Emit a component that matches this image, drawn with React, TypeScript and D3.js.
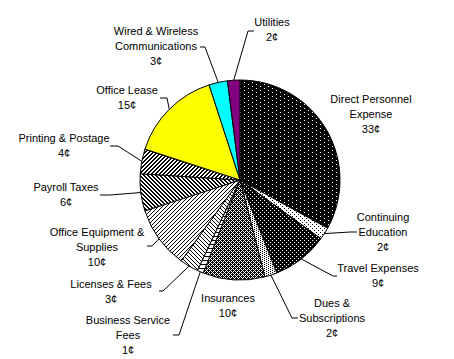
import React from "react";
import * as d3 from "d3";

const categories = [
  "Direct Personnel Expense",
  "Continuing Education",
  "Travel Expenses",
  "Dues & Subscriptions",
  "Insurances",
  "Business Service Fees",
  "Licenses & Fees",
  "Office Equipment & Supplies",
  "Payroll Taxes",
  "Printing & Postage",
  "Office Lease",
  "Wired & Wireless Communications",
  "Utilities",
];
const values = [33, 2, 9, 2, 10, 1, 3, 10, 6, 4, 15, 3, 2];
const labelLines = [
  ["Direct Personnel", "Expense"],
  ["Continuing", "Education"],
  ["Travel Expenses"],
  ["Dues &", "Subscriptions"],
  ["Insurances"],
  ["Business Service", "Fees"],
  ["Licenses & Fees"],
  ["Office Equipment &", "Supplies"],
  ["Payroll Taxes"],
  ["Printing & Postage"],
  ["Office Lease"],
  ["Wired & Wireless", "Communications"],
  ["Utilities"],
];

const W = 454;
const H = 359;
const CX = 240;
const CY = 180;
const R = 100;

type P = [number, number];
// label layout: center x, first baseline, leader points after the arc point
const layout: { cx: number; y: number; leader: P[] | null }[] = [
  { cx: 371, y: 103, leader: null },
  { cx: 383, y: 221, leader: [[350, 232], [357, 232]] },
  { cx: 378, y: 272, leader: [[333, 276], [337, 276]] },
  { cx: 332, y: 307, leader: [[292, 318], [298, 318]] },
  { cx: 228, y: 302, leader: null },
  { cx: 128, y: 324, leader: [[179, 335], [173, 335]] },
  { cx: 111, y: 288, leader: [[163, 291], [159, 291]] },
  { cx: 97, y: 236, leader: [[152, 246], [147, 246]] },
  { cx: 66, y: 191, leader: [[110, 195], [100, 195]] },
  { cx: 64, y: 142, leader: [[118, 146], [110, 146]] },
  { cx: 127, y: 94, leader: [[167, 98], [160, 98]] },
  { cx: 156, y: 35, leader: [[205, 47], [200, 47]] },
  { cx: 272, y: 26, leader: [[248, 31], [254, 31]] },
];

type PatDef = { id: string; w: number; h: number; fg: string; bg: string; on: (x: number, y: number) => boolean };
const patterns: PatDef[] = [
  { id: "p0", w: 8, h: 4, fg: "#fff", bg: "#000", on: (x, y) => (x === 0 && y === 0) || (x === 4 && y === 2) },
  { id: "p1", w: 4, h: 4, fg: "#000", bg: "#fff", on: (x, y) => (x === 0 && y === 0) || (x === 2 && y === 2) },
  { id: "p2", w: 4, h: 4, fg: "#fff", bg: "#000", on: (x, y) => (x === 0 && y === 0) || (x === 2 && y === 2) },
  { id: "p3", w: 4, h: 2, fg: "#000", bg: "#fff", on: (x, y) => (x === 0 && y === 0) || (x === 2 && y === 1) },
  { id: "p4", w: 4, h: 4, fg: "#000", bg: "#fff", on: (x, y) => !((x + y) % 4 === 0 || (x - y + 4) % 4 === 0) },
  { id: "p5", w: 4, h: 4, fg: "#000", bg: "#fff", on: (x, y) => y === 0 },
  { id: "p6", w: 4, h: 4, fg: "#000", bg: "#fff", on: (x, y) => (x - y + 4) % 4 === 0 },
  { id: "p7", w: 4, h: 4, fg: "#000", bg: "#fff", on: (x, y) => (x + y) % 4 === 0 },
  { id: "p8", w: 4, h: 4, fg: "#000", bg: "#fff", on: (x, y) => (x - y + 4) % 4 < 2 },
  { id: "p9", w: 4, h: 4, fg: "#000", bg: "#fff", on: (x, y) => (x + y) % 4 < 2 },
];
const fills = [
  "url(#p0)", "url(#p1)", "url(#p2)", "url(#p3)", "url(#p4)", "url(#p5)", "url(#p6)",
  "url(#p7)", "url(#p8)", "url(#p9)", "#ffff00", "#00ffff", "#800080",
];

export default function App() {
  const pie = d3.pie<number>().sort(null).value((d) => d)(values);
  const arc = d3.arc<d3.PieArcDatum<number>>().innerRadius(0).outerRadius(R);
  const edge = d3.arc<d3.PieArcDatum<number>>().innerRadius(R).outerRadius(R);
  const font = "'Liberation Sans', Arial, sans-serif";

  return (
    <svg width={W} height={H} style={{ position: "absolute", left: 0, top: 0, background: "#fff" }}>
      <defs>
        {patterns.map((p) => {
          const px: JSX.Element[] = [];
          for (let y = 0; y < p.h; y++)
            for (let x = 0; x < p.w; x++)
              if (p.on(x, y)) px.push(<rect key={`${x}-${y}`} x={x} y={y} width={1} height={1} fill={p.fg} shapeRendering="crispEdges" />);
          return (
            <pattern key={p.id} id={p.id} patternUnits="userSpaceOnUse" x={CX} y={CY} width={p.w} height={p.h}>
              <rect width={p.w} height={p.h} fill={p.bg} shapeRendering="crispEdges" />
              {px}
            </pattern>
          );
        })}
      </defs>
      <g transform={`translate(${CX},${CY})`}>
        {pie.map((d, i) => (
          <path key={categories[i]} d={arc(d) || ""} fill={fills[i]} stroke="#000" strokeWidth={1} />
        ))}
      </g>
      {pie.map((d, i) => {
        const L = layout[i];
        if (!L.leader) return null;
        const c = edge.centroid(d);
        const pts: P[] = [[c[0] + CX, c[1] + CY], ...L.leader];
        return (
          <polyline key={"l" + i} points={pts.map((p) => p.join(",")).join(" ")} fill="none" stroke="#000" strokeWidth={1} />
        );
      })}
      {values.map((v, i) => {
        const L = layout[i];
        const lines = [...labelLines[i], `${v}¢`];
        return (
          <text key={"t" + i} x={L.cx} y={L.y} textAnchor="middle" fontFamily={font} fontSize={11} fill="#000">
            {lines.map((s, k) => (
              <tspan key={k} x={L.cx} dy={k === 0 ? 0 : 15}>
                {s}
              </tspan>
            ))}
          </text>
        );
      })}
    </svg>
  );
}
